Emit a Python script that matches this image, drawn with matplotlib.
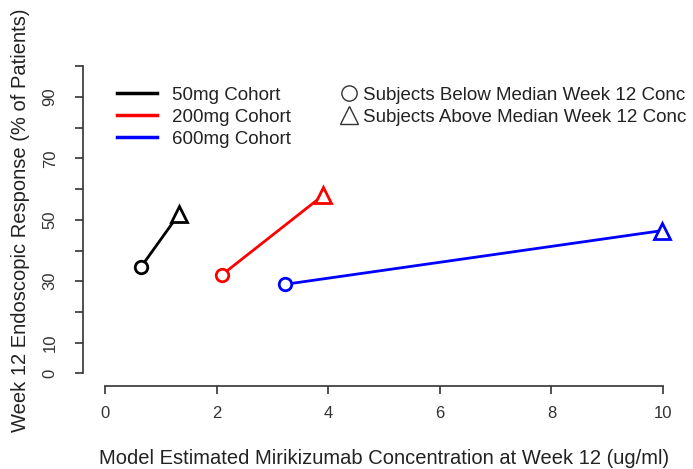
import matplotlib
matplotlib.use("Agg")
import matplotlib.pyplot as plt
from matplotlib.lines import Line2D

plt.rcParams['font.family'] = ['Liberation Sans', 'DejaVu Sans']

# cohort exposure-response: below / above median week 12 concentration
cohorts = ['50mg Cohort', '200mg Cohort', '600mg Cohort']
colors = ['black', 'red', 'blue']
conc_below = [0.64, 2.09, 3.23]
conc_above = [1.33, 3.91, 9.99]
resp_below = [34.5, 32, 29]
resp_above = [52, 58, 46.5]

x_ticks = [0, 2, 4, 6, 8, 10]
y_ticks = list(range(0, 101, 10))
y_labels = ['0', '10', '', '30', '', '50', '', '70', '', '90', '']

fig = plt.figure(figsize=(6.93, 4.69), dpi=100)
ax = fig.add_axes([0.1193, 0.1778, 0.8696, 0.707])

for i in range(len(cohorts)):
    ax.plot([conc_below[i], conc_above[i]], [resp_below[i], resp_above[i]],
            color=colors[i], lw=2.0, zorder=2)
    ax.plot(conc_below[i], resp_below[i], 'o', ms=9, mfc='white',
            mec=colors[i], mew=2.0, zorder=3)
    ax.plot(conc_above[i], resp_above[i], '^', ms=11, mfc='white',
            mec=colors[i], mew=2.0, zorder=3)

ax.set_xlim(-0.4, 10.4)
ax.set_ylim(-4, 104)
for s in ['top', 'right']:
    ax.spines[s].set_visible(False)
ax.spines['left'].set_bounds(0, 100)
ax.spines['bottom'].set_bounds(0, 10)
for s in ['left', 'bottom']:
    ax.spines[s].set_color('#333333')
    ax.spines[s].set_linewidth(1.2)

ax.set_xticks(x_ticks)
ax.set_xticklabels([str(v) for v in x_ticks])
ax.set_yticks(y_ticks)
ax.set_yticklabels(y_labels, rotation=90, va='center')
ax.tick_params(axis='both', length=6, width=1.2, color='#333333',
               labelsize=12, labelcolor='#333333')
ax.tick_params(axis='x', pad=9)
ax.tick_params(axis='y', pad=12)

ax.set_xlabel('Model Estimated Mirikizumab Concentration at Week 12 (ug/ml)',
              fontsize=14.5, color='#222222', labelpad=20)
ax.set_ylabel('Week 12 Endoscopic Response (% of Patients)',
              fontsize=14.5, color='#222222', labelpad=9)

cohort_handles = [Line2D([], [], color=c, lw=2.5) for c in colors]
leg1 = ax.legend(cohort_handles, cohorts, loc='upper left',
                 bbox_to_anchor=(0.045, 0.925), frameon=False, fontsize=13.5,
                 handlelength=2.1, handletextpad=0.8, labelspacing=0.27,
                 labelcolor='#222222', borderaxespad=0)
ax.add_artist(leg1)

shape_handles = [
    Line2D([], [], marker='o', ls='none', ms=11, mfc='white', mec='#333333', mew=1.0),
    Line2D([], [], marker='^', ls='none', ms=13, mfc='white', mec='#333333', mew=1.0),
]
shape_labels = ['Subjects Below Median Week 12 Conc',
                'Subjects Above Median Week 12 Conc']
ax.legend(shape_handles, shape_labels, loc='upper left',
          bbox_to_anchor=(0.417, 0.925), frameon=False, fontsize=13.5,
          handlelength=0.8, handletextpad=0.35, labelspacing=0.27,
          labelcolor='#222222', borderaxespad=0)

fig.savefig('out.png', dpi=100)
